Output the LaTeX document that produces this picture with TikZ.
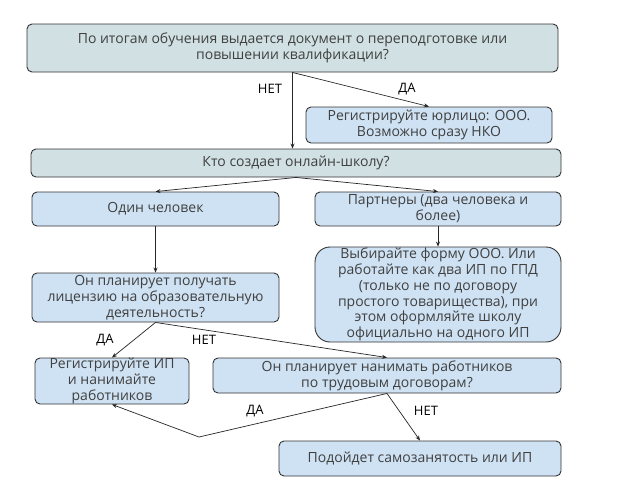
\documentclass[tikz,border=0pt]{standalone}
\usepackage{fontspec}
\setmainfont{Open Sans}
\usetikzlibrary{arrows.meta}
\definecolor{cyanbox}{HTML}{D0E0E3}
\definecolor{bluebox}{HTML}{CFE2F3}
\definecolor{boxline}{HTML}{333333}
\definecolor{boxtext}{HTML}{404040}
\tikzset{
  qbox/.style={draw=boxline, line width=0.9pt, rounded corners=5pt, fill=bluebox,
    align=center, font=\fontsize{14}{15.8}\selectfont, text=boxtext, inner sep=0pt},
  qcyan/.style={qbox, fill=cyanbox},
  ans/.style={font=\fontsize{13}{15}\selectfont, text=black},
  flow/.style={-{Stealth[length=5pt,width=4pt]}, line width=0.7pt, draw=black!85}
}
\begin{document}
\begin{tikzpicture}[x=1pt,y=-1pt]
      \useasboundingbox[fill=white] (0,0) rectangle (624,499);
      % boxes
      \node[qcyan, minimum width=531pt, minimum height=48pt] (itog) at (292.5,48)
        {По итогам обучения выдается документ о переподготовке или\\повышении квалификации?};
      \node[qbox, minimum width=246pt, minimum height=36pt] (urlico) at (429,125)
        {Регистрируйте юрлицо: ООО.\\Возможно сразу НКО};
      \node[qcyan, minimum width=530pt, minimum height=28pt] (kto) at (296,163)
        {Кто создает онлайн-школу?};
      \node[qbox, minimum width=247pt, minimum height=34pt] (odin) at (155.5,209)
        {Один человек};
      \node[qbox, minimum width=246pt, minimum height=34pt] (partn) at (438,209)
        {Партнеры (два человека и\\более)};
      \node[qbox, minimum width=247pt, minimum height=49pt] (licen) at (155.5,297.5)
        {Он планирует получать\\лицензию на образовательную\\деятельность?};
      \node[qbox, rounded corners=15pt, minimum width=246pt, minimum height=95pt] (vybor) at (438,294.5)
        {Выбирайте форму ООО. Или\\работайте как два ИП по ГПД\\(только не по договору\\простого товарищества), при\\этом оформляйте школу\\официально на одного ИП};
      \node[qbox, minimum width=154pt, minimum height=46pt] (regip) at (112,381)
        {Регистрируйте ИП\\и нанимайте\\работников};
      \node[qbox, minimum width=348pt, minimum height=35pt] (naim) at (387,375.5)
        {Он планирует нанимать работников\\по трудовым договорам?};
      \node[qbox, minimum width=282pt, minimum height=35pt] (samoz) at (420,458.5)
        {Подойдет самозанятость или ИП};
      \coordinate (bend) at (199,437);
      % arrows
      \draw[flow] (itog.south) -- (itog.south |- kto.north);
      \draw[flow] (itog.south) -- (urlico.north);
      \draw[flow] (kto.south) -- (odin.north);
      \draw[flow] (kto.south) -- (partn.north);
      \draw[flow] (odin.south) -- (licen.north);
      \draw[flow] (partn.south) -- (vybor.north);
      \draw[flow] (licen.south) -- (regip.north);
      \draw[flow] (licen.south) -- (naim.north);
      \draw[flow] (naim.south) -- (bend) -- (regip.south);
      \draw[flow] (naim.south) -- (samoz.north);
      % labels
      \node[ans] (net1) at (270,89) {НЕТ};
      \node[ans] (da1) at (407,89) {ДА};
      \node[ans] (da2) at (105,340) {ДА};
      \node[ans] (net2) at (204,340) {НЕТ};
      \node[ans] (da3) at (255,411) {ДА};
      \node[ans] (net3) at (426,411) {НЕТ};
   \end{tikzpicture}
\end{document}
